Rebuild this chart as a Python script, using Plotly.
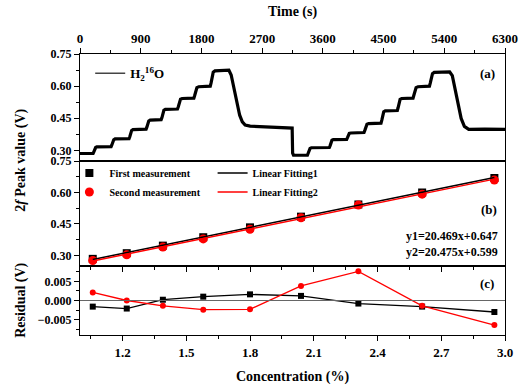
import numpy as np
import plotly.graph_objects as go

# ---------------- data ----------------
# Panel (a): 2f peak time series
time_s = [0, 194, 205, 218, 232, 250,
          461, 472, 486, 500, 520,
          727, 738, 752, 766, 785,
          980, 991, 1005, 1019, 1040,
          1203, 1215, 1229, 1243, 1265,
          1445, 1457, 1474, 1490, 1515,
          1688, 1700, 1717, 1733, 1760,
          1931, 1943, 1960, 1975, 2000,
          2207, 2241, 2280, 2328, 2367, 2406, 2449, 2522, 2800, 3145,
          3152, 3165,
          3371, 3383, 3396, 3410, 3430,
          3696, 3708, 3721, 3735, 3755,
          3953, 3965, 3978, 3992, 4015,
          4210, 4222, 4238, 4254, 4280,
          4462, 4474, 4488, 4502, 4525,
          4704, 4716, 4730, 4745, 4770,
          4937, 4949, 4966, 4982, 5010,
          5180, 5192, 5209, 5225, 5250,
          5480, 5519, 5553, 5601, 5650, 5698, 5762, 6000, 6300]
peak_v = [0.285, 0.285, 0.293, 0.306, 0.313, 0.316,
          0.317, 0.325, 0.340, 0.349, 0.353,
          0.354, 0.363, 0.382, 0.393, 0.397,
          0.399, 0.408, 0.427, 0.437, 0.441,
          0.443, 0.453, 0.476, 0.487, 0.491,
          0.493, 0.504, 0.527, 0.539, 0.542,
          0.544, 0.556, 0.580, 0.593, 0.597,
          0.600, 0.615, 0.648, 0.665, 0.671,
          0.674, 0.652, 0.597, 0.519, 0.464, 0.433, 0.418, 0.413, 0.409, 0.404,
          0.287, 0.277,
          0.277, 0.286, 0.301, 0.309, 0.312,
          0.313, 0.322, 0.338, 0.347, 0.350,
          0.351, 0.359, 0.372, 0.379, 0.381,
          0.383, 0.393, 0.414, 0.422, 0.425,
          0.427, 0.441, 0.468, 0.480, 0.484,
          0.486, 0.500, 0.527, 0.538, 0.542,
          0.544, 0.557, 0.581, 0.593, 0.597,
          0.600, 0.614, 0.644, 0.658, 0.664,
          0.666, 0.649, 0.597, 0.519, 0.449, 0.412, 0.398, 0.399, 0.398]

# Panel (b): calibration
concentration = [1.06, 1.22, 1.39, 1.58, 1.80, 2.04, 2.31, 2.61, 2.95]
first_meas = [0.284, 0.311, 0.347, 0.387, 0.434, 0.485, 0.543, 0.600, 0.669]
second_meas = [0.276, 0.303, 0.340, 0.379, 0.425, 0.480, 0.540, 0.592, 0.659]

# Panel (c): residuals
resid_first = [-0.0016, -0.0021, 0.0002, 0.0010, 0.0016, 0.0012, -0.0008, -0.0016, -0.0030]
resid_second = [0.0021, 0.0000, -0.0014, -0.0024, -0.0023, 0.0038, 0.0076, -0.0014, -0.0064]

# linear fits
c = np.array(concentration)
p1 = np.polyfit(c, np.array(first_meas), 1)
p2 = np.polyfit(c, np.array(second_meas), 1)
fit_x = [min(concentration), max(concentration)]
fit1 = list(np.polyval(p1, fit_x))
fit2 = list(np.polyval(p2, fit_x))

# ---------------- figure ----------------
FONT = "Liberation Serif"
fig = go.Figure()

# thin grey copy underneath (provides the legend sample), thick black on top
fig.add_trace(go.Scatter(x=time_s, y=peak_v, mode="lines", name="H<sub>2</sub><sup>16</sup>O",
                         line=dict(color="#444444", width=1.5), xaxis="x3", yaxis="y3",
                         legend="legend3"))
fig.add_trace(go.Scatter(x=time_s, y=peak_v, mode="lines", showlegend=False,
                         line=dict(color="black", width=3.2), xaxis="x3", yaxis="y3"))

fig.add_trace(go.Scatter(x=concentration, y=first_meas, mode="markers", name="First measurement",
                         marker=dict(symbol="square", size=8, color="black"),
                         xaxis="x2", yaxis="y2", legend="legend"))
fig.add_trace(go.Scatter(x=concentration, y=second_meas, mode="markers", name="Second measurement",
                         marker=dict(symbol="circle", size=9, color="red"),
                         xaxis="x2", yaxis="y2", legend="legend"))
fig.add_trace(go.Scatter(x=fit_x, y=fit1, mode="lines", name="Linear Fitting1",
                         line=dict(color="black", width=1.5), xaxis="x2", yaxis="y2", legend="legend2"))
fig.add_trace(go.Scatter(x=fit_x, y=fit2, mode="lines", name="Linear Fitting2",
                         line=dict(color="red", width=1.5), xaxis="x2", yaxis="y2", legend="legend2"))

fig.add_trace(go.Scatter(x=concentration, y=resid_first, mode="lines+markers", showlegend=False,
                         line=dict(color="black", width=1.3),
                         marker=dict(symbol="square", size=6, color="black"),
                         xaxis="x", yaxis="y"))
fig.add_trace(go.Scatter(x=concentration, y=resid_second, mode="lines+markers", showlegend=False,
                         line=dict(color="red", width=1.3),
                         marker=dict(symbol="circle", size=6, color="red"),
                         xaxis="x", yaxis="y"))

tickfont = dict(family=FONT, size=12, color="black", weight="bold")
common_axis = dict(showline=True, linecolor="black", linewidth=1.2, mirror=True,
                   ticks="outside", ticklen=5, tickwidth=1, tickcolor="black",
                   showgrid=False, zeroline=False, tickfont=tickfont)
right_axis = dict(side="right", showline=False, ticks="inside", ticklen=4, tickwidth=1,
                  tickcolor="black", showticklabels=False, showgrid=False, zeroline=False)

dA = [0.6192, 1.0]
dB = [0.2456, 0.6192]
dC = [0.0, 0.2456]
bigtick = dict(family=FONT, size=13, color="black", weight="bold")
no_tf = {k: v for k, v in common_axis.items() if k != "tickfont"}

fig.update_layout(
    width=530, height=388,
    margin=dict(l=80, r=17, t=54, b=53),
    paper_bgcolor="white", plot_bgcolor="white",
    xaxis=dict(domain=[0, 1], anchor="y", range=[1.0, 3.0], tick0=1.2, dtick=0.3,
               tickformat=".1f",
               minor=dict(ticks="outside", ticklen=3, dtick=0.15, tick0=1.05, tickcolor="black"),
               tickfont=bigtick, **no_tf),
    yaxis=dict(domain=dC, anchor="x", range=[-0.009, 0.009], tick0=0, dtick=0.005,
               tickformat=".3f",
               minor=dict(ticks="outside", ticklen=3, dtick=0.0025, tickcolor="black"),
               **common_axis),
    yaxis4=dict(overlaying="y", anchor="x", range=[-0.009, 0.009], tick0=0, dtick=0.005,
                minor=dict(ticks="inside", ticklen=2, dtick=0.0025, tickcolor="black"),
                **right_axis),
    xaxis2=dict(domain=[0, 1], anchor="y2", range=[1.0, 3.0], tick0=1.2, dtick=0.3,
                showticklabels=False,
                minor=dict(ticks="outside", ticklen=3, dtick=0.15, tick0=1.05, tickcolor="black"),
                **common_axis),
    yaxis2=dict(domain=dB, anchor="x2", range=[0.25, 0.75], tick0=0.3, dtick=0.15,
                tickformat=".2f",
                minor=dict(ticks="outside", ticklen=3, dtick=0.075, tick0=0.3, tickcolor="black"),
                **common_axis),
    yaxis5=dict(overlaying="y2", anchor="x2", range=[0.25, 0.75], tick0=0.3, dtick=0.15,
                minor=dict(ticks="inside", ticklen=2, dtick=0.075, tick0=0.3, tickcolor="black"),
                **right_axis),
    xaxis3=dict(domain=[0, 1], anchor="y3", side="top", range=[0, 6300], tick0=0, dtick=900,
                minor=dict(ticks="outside", ticklen=3, dtick=450, tickcolor="black"),
                tickfont=bigtick, **no_tf),
    yaxis3=dict(domain=dA, anchor="x3", range=[0.25, 0.75], tick0=0.3, dtick=0.15,
                tickformat=".2f",
                minor=dict(ticks="outside", ticklen=3, dtick=0.075, tick0=0.3, tickcolor="black"),
                **common_axis),
    yaxis6=dict(overlaying="y3", anchor="x3", range=[0.25, 0.75], tick0=0.3, dtick=0.15,
                minor=dict(ticks="inside", ticklen=2, dtick=0.075, tick0=0.3, tickcolor="black"),
                **right_axis),
    legend=dict(x=-0.025, y=0.628, xanchor="left", yanchor="top", bgcolor="rgba(0,0,0,0)",
                font=dict(family=FONT, size=10, color="black", weight="bold"),
                tracegroupgap=0, itemwidth=30),
    legend2=dict(x=0.312, y=0.628, xanchor="left", yanchor="top", bgcolor="rgba(0,0,0,0)",
                 font=dict(family=FONT, size=10, color="black", weight="bold"),
                 tracegroupgap=0, itemwidth=30),
    legend3=dict(x=0.024, y=0.985, xanchor="left", yanchor="top", bgcolor="rgba(0,0,0,0)",
                 font=dict(family=FONT, size=13, color="black", weight="bold"),
                 itemwidth=30),
    showlegend=True,
)

# zero line in residual panel
fig.add_shape(type="line", xref="x domain", yref="y", x0=0, x1=1, y0=0, y1=0,
              line=dict(color="#666666", width=1.2))

def ann(text, x, y, font, xanchor="center", angle=0):
    fig.add_annotation(text=text, x=x, y=y, xref="paper", yref="paper", showarrow=False,
                       xanchor=xanchor, yanchor="middle", textangle=angle, font=font)

ann_font = dict(family=FONT, size=13, color="black", weight="bold")
ann("(a)", 0.958, 0.932, ann_font)
ann("(b)", 0.963, 0.445, ann_font)
ann("(c)", 0.958, 0.185, ann_font)
eq_font = dict(family=FONT, size=12, color="black", weight="bold")
ann("y1=20.469x+0.647", 0.988, 0.352, eq_font, xanchor="right")
ann("y2=20.475x+0.599", 0.988, 0.295, eq_font, xanchor="right")

title_font = dict(family=FONT, size=14, color="black", weight="bold")
ann("Time (s)", 0.5, 1.149, title_font)
ann("Concentration (%)", 0.5, -0.149, title_font)
ann("2<i>f</i> Peak value (V)", -0.139, 0.623, title_font, angle=-90)
ann("Residual (V)", -0.139, 0.125, title_font, angle=-90)

fig.write_html("out.html")
